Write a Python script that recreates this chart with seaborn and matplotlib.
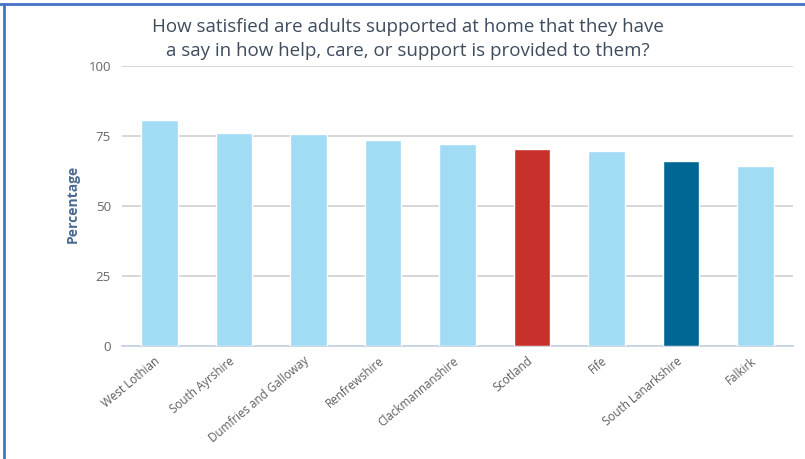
import matplotlib
matplotlib.use("Agg")
import matplotlib.pyplot as plt
import matplotlib.transforms as mtransforms
import seaborn as sns
import pandas as pd
from matplotlib.lines import Line2D

categories = ["West Lothian", "South Ayrshire", "Dumfries and Galloway", "Renfrewshire",
              "Clackmannanshire", "Scotland", "Fife", "South Lanarkshire", "Falkirk"]
values = [80.6, 76.1, 75.6, 73.5, 72.2, 70.5, 69.7, 66.0, 64.2]
yticks = [0, 25, 50, 75, 100]

light = "#A1DCF4"
colors = {c: light for c in categories}
colors["Scotland"] = "#C8302C"
colors["South Lanarkshire"] = "#006694"

df = pd.DataFrame({"Area": categories, "Percentage": values})

sns.set_style("white")
plt.rcParams["font.family"] = ["Open Sans", "DejaVu Sans"]

fig = plt.figure(figsize=(8.05, 4.59), dpi=100)
ax = fig.add_axes([122/805, 1-346/459, (793-122)/805, (346-66)/459])

sns.barplot(data=df, x="Area", y="Percentage", hue="Area", palette=colors,
            width=0.49, legend=False, ax=ax, saturation=1, zorder=3)

ax.set_ylim(0, 100)
ax.set_xlim(-0.5, len(categories) - 0.5)
ax.set_yticks(yticks)
ax.set_yticklabels([str(v) for v in yticks], color="#666666", fontsize=9.5)
ax.yaxis.grid(True, color="#D3D3D3", linewidth=1.3, zorder=0)
ax.set_axisbelow(True)
ax.tick_params(axis="y", length=0, pad=8)

ax.set_xticks(range(len(categories)))
ax.set_xticklabels(categories, rotation=40, ha="right", va="top", rotation_mode="anchor",
                   color="#5E5E5E", fontsize=8.4)
ax.tick_params(axis="x", which="major", length=0, pad=6)
offset = mtransforms.ScaledTranslation(-5/100, 0, fig.dpi_scale_trans)
for lbl in ax.get_xticklabels():
    lbl.set_transform(lbl.get_transform() + offset)
ax.set_xticks([i - 0.5 for i in range(len(categories) + 1)], minor=True)
ax.tick_params(axis="x", which="minor", length=5, color="#C6D2E2", width=1)

for s in ["top", "right", "left"]:
    ax.spines[s].set_visible(False)
ax.spines["bottom"].set_color("#C6D2E2")
ax.spines["bottom"].set_linewidth(1.2)

ax.set_xlabel("")
ax.set_ylabel("Percentage", fontsize=10, fontweight="bold", color="#4A6A90")
ax.yaxis.set_label_coords((80 - 122) / 671, (346 - 204) / 280)

fig.text(408/805, 1 - 39/459,
         "How satisfied are adults supported at home that they have\na say in how help, care, or support is provided to them?",
         ha="center", va="center", fontsize=13.5, color="#3E4C5E", linespacing=1.38)

# screenshot frame lines
fig.add_artist(Line2D([0, 1], [1 - 4/459, 1 - 4/459], color="#4472C4", linewidth=2, transform=fig.transFigure))
fig.add_artist(Line2D([4/805, 4/805], [0, 1 - 4/459], color="#4472C4", linewidth=2, transform=fig.transFigure))

fig.savefig("out.png", dpi=100)
